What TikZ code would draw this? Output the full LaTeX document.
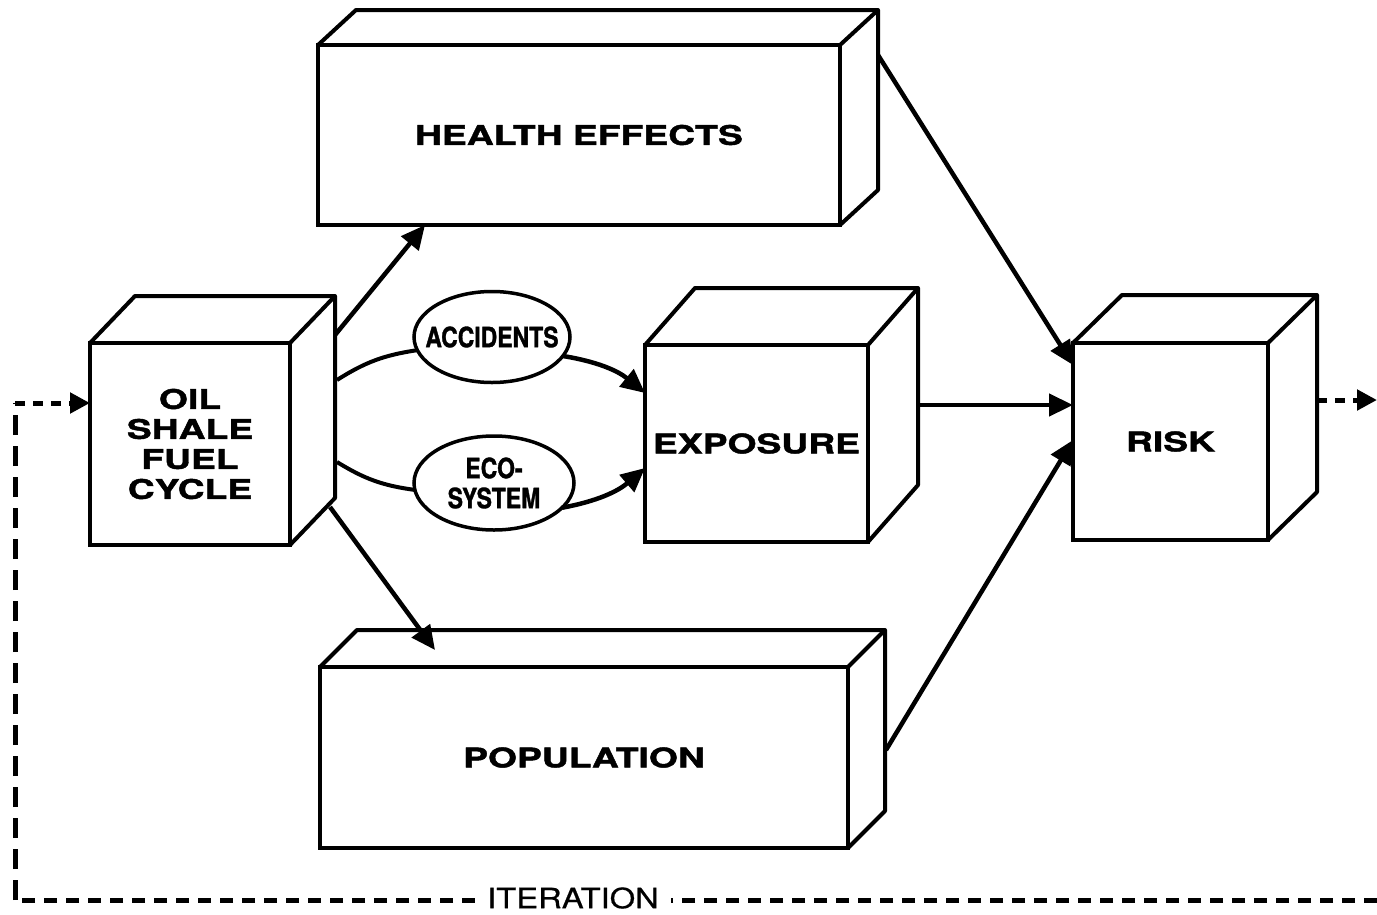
\documentclass[tikz,border=0pt]{standalone}
\usepackage{fontspec}
\newfontfamily\wideb[FakeStretch=1.38,FakeBold=1.6]{TeX Gyre Heros}
\newfontfamily\condb[FakeStretch=0.82,FakeBold=1.2]{TeX Gyre Heros}
\newfontfamily\plainf[FakeStretch=1.17,FakeBold=0.6]{TeX Gyre Heros}
\usetikzlibrary{arrows.meta,shapes.geometric}
\newcommand\cubesides[3]{%
  \draw[cubeedge] (#1.north west) -- ++(#2,#3) -- ([shift={(#2,#3)}]#1.north east)
     -- ([shift={(#2,#3)}]#1.south east) -- (#1.south east);
  \draw[cubeedge] (#1.north east) -- ++(#2,#3);}
\newcommand\zw[1]{\makebox[0pt]{#1}}
\begin{document}
\begin{tikzpicture}[x=1pt,y=-1pt,
  face/.style={draw,line width=4pt,rectangle,inner sep=0pt,outer sep=0pt,align=center,
    font=\wideb\bfseries\fontsize{27}{30}\selectfont},
  oval/.style={draw,line width=3.5pt,ellipse,inner sep=0pt,outer sep=0pt,align=center,
    font=\condb\bfseries\fontsize{28}{30}\selectfont},
  cubeedge/.style={line width=4pt,line join=round},
  conn/.style={line width=4.5pt,-{Triangle[length=24pt,width=22pt]}},
  link/.style={line width=4pt},
  iter/.style={line width=5pt,dash pattern=on 13pt off 9pt},
  itervert/.style={line width=5pt,dash pattern=on 20pt off 11pt},
  iterlabel/.style={fill=white,inner xsep=12pt,inner ysep=0pt,font=\plainf\fontsize{28}{30}\selectfont}]
\useasboundingbox (0,0) rectangle (1377,914);

% boxes (front faces)
\node[face,minimum width=200pt,minimum height=202pt] (oil) at (190,444) {OIL\\SHALE\\FUEL\\CYCLE};
\cubesides{oil}{45}{-47}
\node[face,minimum width=522pt,minimum height=180pt] (health) at (579,135) {HEALTH EFFECTS};
\cubesides{health}{38}{-35}
\node[face,minimum width=223pt,minimum height=197pt] (exp) at (756.5,443.5) {EXPOSURE};
\cubesides{exp}{50}{-57}
\node[face,minimum width=195pt,minimum height=197pt] (risk) at (1170.5,441.5) {RISK};
\cubesides{risk}{49}{-48}
\node[face,minimum width=528pt,minimum height=181pt] (pop) at (584,757.5) {POPULATION};
\cubesides{pop}{37}{-37}

% ellipses
\node[oval,minimum width=156pt,minimum height=91pt] (acc) at (492,337) {\zw{ACCIDENTS}};
\node[oval,minimum width=160pt,minimum height=94pt] (eco) at (494,483) {\zw{ECO-}\\\zw{SYSTEM}};

% connectors
\draw[conn] ([shift={(45,-8)}]oil.north east) -- ([shift={(107,0)}]health.south west);
\draw[conn] ([shift={(40,-38)}]oil.south east) -- ([shift={(115,-17)}]pop.north west);
\draw[link] ([shift={(47,37)}]oil.north east) to[bend left=12] (acc.190);
\draw[conn] (acc.-15) to[bend left=15] ([shift={(0,48)}]exp.north west);
\draw[link] ([shift={(47,-83)}]oil.south east) to[bend right=12] (eco.185);
\draw[conn] (eco.-20) to[bend right=15] ([shift={(0,123)}]exp.north west);
\draw[conn] ([shift={(50,60)}]exp.north east) -- ([shift={(0,62)}]risk.north west);
\draw[conn] ([shift={(38,10)}]health.north east) -- ([shift={(0,22)}]risk.north west);
\draw[conn] ([shift={(38,83)}]pop.north east) -- ([shift={(0,97)}]risk.north west);

% iteration loop
\coordinate (iterR) at (1377,900);
\coordinate (iterL) at (15,900);
\coordinate (iterT) at (15,403);
\coordinate (outR) at (1377,400);
\draw[iter] (iterR) -- (iterL);
\draw[itervert] (iterL) -- (iterT);
\draw[iter,dash pattern=on 10pt off 8pt,-{Triangle[length=20pt,width=20pt]}] (iterT) -- ([shift={(0,60)}]oil.north west);
\node[iterlabel] (itlab) at (573,898) {ITERATION};
\draw[iter,dash pattern=on 10pt off 8pt,-{Triangle[length=20pt,width=20pt]}] ([shift={(49,57)}]risk.north east) -- (outR);
\end{tikzpicture}
\end{document}
